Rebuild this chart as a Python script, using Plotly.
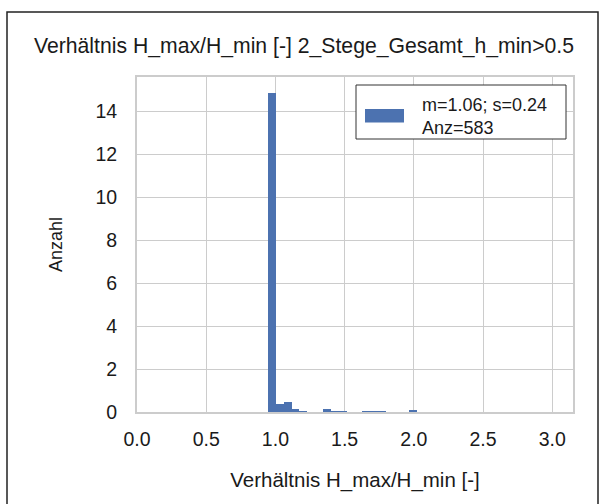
import plotly.graph_objects as go

# Histogram (density)
bin_centers = [0.975, 1.031, 1.088, 1.145, 1.202, 1.372, 1.429, 1.486, 1.656, 1.713, 1.770, 1.997]
density = [14.86, 0.39, 0.45, 0.12, 0.03, 0.12, 0.03, 0.03, 0.03, 0.03, 0.03, 0.07]
bin_width = 0.0568

mean_val = 1.06
std_val = 0.24
count = 583

title_text = "Verhältnis H_max/H_min [-] 2_Stege_Gesamt_h_min>0.5"
x_title = "Verhältnis H_max/H_min [-]"
y_title = "Anzahl"
x_ticks = [0.0, 0.5, 1.0, 1.5, 2.0, 2.5, 3.0]
y_ticks = [0, 2, 4, 6, 8, 10, 12, 14]

bar_color = "#4C72B0"
grid_color = "#cccccc"
font_family = "Liberation Sans, Arial, sans-serif"

fig = go.Figure()
fig.add_trace(go.Bar(
    x=bin_centers, y=density, width=[bin_width] * len(bin_centers),
    marker=dict(color=bar_color, line=dict(width=0)),
    showlegend=False,
))

L, R, T, B = 137, 32, 77, 92
W, H = 605, 504
pw, ph = W - L - R, H - T - B

def px(xp):
    return (xp - L) / pw

def py(yp):
    return (H - B - yp) / ph

shapes = []
# outer figure frame
shapes.append(dict(type="path", xref="paper", yref="paper",
                   path=f"M {px(7)} {py(510)} L {px(7)} {py(12)} L {px(598)} {py(12)} L {px(598)} {py(510)}",
                   line=dict(color="#222222", width=1.5)))
# legend box
shapes.append(dict(type="rect", xref="paper", yref="paper",
                   x0=px(356), x1=px(566), y0=py(139), y1=py(85),
                   line=dict(color="#333333", width=1), fillcolor="white", layer="above"))
shapes.append(dict(type="rect", xref="paper", yref="paper",
                   x0=px(365), x1=px(404), y0=py(122.5), y1=py(109),
                   line=dict(width=0), fillcolor=bar_color, layer="above"))

annotations = [dict(
    xref="paper", yref="paper", x=px(420), y=py(116), xanchor="left", yanchor="middle",
    text=f"m={mean_val:.2f}; s={std_val:.2f}<br>Anz={count}", align="left", showarrow=False,
    font=dict(size=18, color="#1a1a1a", family=font_family),
)]

fig.update_layout(
    width=W, height=H,
    margin=dict(l=L, r=R, t=T, b=B),
    paper_bgcolor="white", plot_bgcolor="white",
    font=dict(family=font_family, color="#1a1a1a", size=17),
    title=dict(text=title_text, x=px(304), xref="paper", xanchor="center",
               y=1 - 46 / H, yref="container", yanchor="middle",
               font=dict(size=21.2, color="#1a1a1a", family=font_family)),
    bargap=0,
    shapes=shapes,
    annotations=annotations,
    showlegend=False,
)
fig.update_xaxes(
    range=[0, 3.15], tickvals=x_ticks, ticktext=[f"{v:.1f}" for v in x_ticks],
    showgrid=True, gridcolor=grid_color, gridwidth=1,
    showline=True, linecolor=grid_color, linewidth=2, mirror=True,
    zeroline=False, ticks="", ticklabelstandoff=9,
    title=dict(text=x_title, standoff=23, font=dict(size=20.5)),
    tickfont=dict(size=19.5),
)
fig.update_yaxes(
    range=[0, 15.6], tickvals=y_ticks,
    showgrid=True, gridcolor=grid_color, gridwidth=1,
    showline=True, linecolor=grid_color, linewidth=2, mirror=True,
    zeroline=False, ticks="", ticklabelstandoff=14,
    title=dict(text=y_title, standoff=28, font=dict(size=18)),
    tickfont=dict(size=19.5),
)

fig.write_html("out.html")
